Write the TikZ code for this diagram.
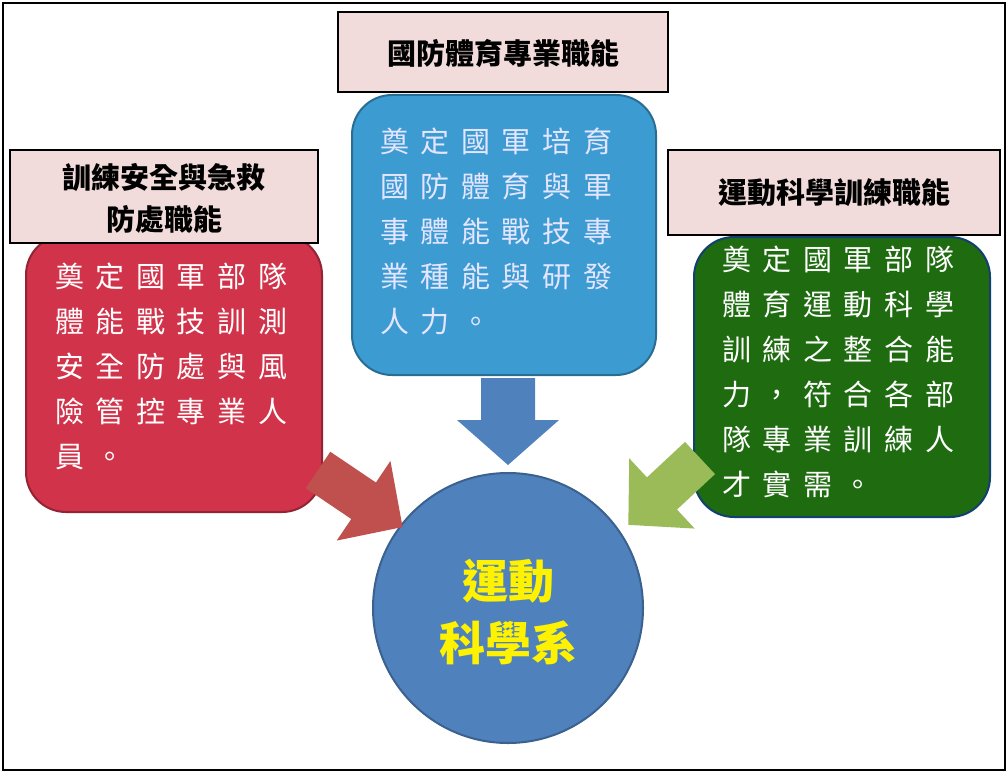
\documentclass[tikz,border=0pt]{standalone}
\usepackage{fontspec}
\newfontfamily\cjk{Noto Sans CJK TC}
\newfontfamily\cjkbody[LetterSpace=40]{Noto Sans CJK TC}
\definecolor{pinkt}{HTML}{F2DCDB}
\definecolor{bluebox}{HTML}{3C9CD2}
\definecolor{redbox}{HTML}{D0334A}
\definecolor{greenbox}{HTML}{1E6B10}
\definecolor{circ}{HTML}{4F81BD}
\definecolor{arrred}{HTML}{C0504D}
\definecolor{arrgreen}{HTML}{9BBB59}
\tikzset{
 titlebox/.style={draw=black,line width=2.5pt,fill=pinkt},
 rbox/.style={rounded corners=40pt,line width=2pt},
 bodytext/.style={anchor=north west,align=left,font=\cjkbody\fontsize{29}{45}\selectfont,text=white,inner sep=0pt},
 ttext/.style={font=\cjk\bfseries\fontsize{29}{42}\selectfont,align=center},
}
\newcommand{\bigarrow}[7]{% shift x,y, rotate, length, shaft half, head half, head length, color
}
\begin{document}
\begin{tikzpicture}[x=1pt,y=-1pt]
\useasboundingbox (0,0) rectangle (1008,773);
\fill[white] (0,0) rectangle (1008,773);
\draw[line width=2.5pt] (3,3) rectangle (1005,770);
% boxes
\draw[rbox,fill=bluebox,draw=bluebox!70!black] (352,95) rectangle (656,375);
\draw[rbox,fill=redbox,draw=redbox!70!black] (26,235) rectangle (322,512);
\draw[rbox,fill=greenbox,draw=blue!40!greenbox] (694,237) rectangle (990,517);
\node[bodytext,text=white!90!blue] (bt) at (380,128) {奠定國軍培育\\國防體育與軍\\事體能戰技專\\業種能與研發\\人力。};
\node[bodytext] (rt) at (55,263) {奠定國軍部隊\\體能戰技訓測\\安全防處與風\\險管控專業人\\員。};
\node[bodytext] (gt) at (722,246) {奠定國軍部隊\\體育運動科學\\訓練之整合能\\力，符合各部\\隊專業訓練人\\才實需。};
% titles
\draw[titlebox] (338,12) rectangle (668,92);
\node[ttext] (t1) at (503,53) {國防體育專業職能};
\draw[titlebox] (10,150) rectangle (318,243);
\node[ttext] (t2) at (164,198) {訓練安全與急救\\防處職能};
\draw[titlebox] (668,150) rectangle (1000,235);
\node[ttext] (t3) at (834,193) {運動科學訓練職能};
% circle
\draw[fill=circ,draw=circ!75!black,line width=2pt] (508,608) circle (135);
\node[font=\cjk\bfseries\fontsize{46}{62}\selectfont,text=yellow,align=center] (c) at (508,612) {運動\\科學系};
% arrows
\begin{scope}[shift={(508,378)},rotate=-90]
\fill[circ] (0,-27)--(42,-27)--(42,-51)--(87,0)--(42,51)--(42,27)--(0,27)--cycle;
\end{scope}
\begin{scope}[shift={(318,470)},rotate=-34]
\fill[arrred] (0,-22)--(55,-22)--(55,-48)--(102,0)--(55,48)--(55,22)--(0,22)--cycle;
\end{scope}
\begin{scope}[shift={(700,458)},rotate=-137]
\fill[arrgreen] (0,-22)--(52,-22)--(52,-48)--(98,0)--(52,48)--(52,22)--(0,22)--cycle;
\end{scope}
\end{tikzpicture}
\end{document}
